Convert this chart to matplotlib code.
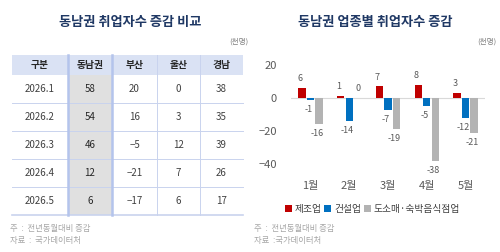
import numpy as np
import matplotlib
matplotlib.use("Agg")
import matplotlib.pyplot as plt
from matplotlib.patches import Rectangle

plt.rcParams['font.family'] = ['Noto Sans CJK KR', 'DejaVu Sans']

# table data
tbl_cols = ["구분", "동남권", "부산", "울산", "경남"]
tbl_rows = ["2026.1", "2026.2", "2026.3", "2026.4", "2026.5"]
dongnam = [58, 54, 46, 12, 6]
busan = [20, 16, -5, -21, -17]
ulsan = [0, 3, 12, 7, 6]
gyeongnam = [38, 35, 39, 26, 17]

# bar chart data
months = ["1월", "2월", "3월", "4월", "5월"]
manuf = [6, 1, 7, 8, 3]
constr = [-1, -14, -7, -5, -12]
retail = [-16, 0, -19, -38, -21]
series_names = ["제조업", "건설업", "도소매·숙박음식점업"]
colors = ["#c00000", "#0070c0", "#b3b3b3"]

title_col = "#1f3864"
note_col = "#a6a6a6"
txt_col = "#404040"

fig = plt.figure(figsize=(5, 2.52), dpi=100)
# overlay axes in pixel coords for the table and texts
ov = fig.add_axes([0, 0, 1, 1])
ov.set_xlim(0, 500)
ov.set_ylim(252, 0)
ov.axis("off")

ov.text(130, 22, "동남권 취업자수 증감 비교", ha="center", va="center",
        fontsize=9.5, fontweight="bold", color=title_col)
ov.text(375, 22, "동남권 업종별 취업자수 증감", ha="center", va="center",
        fontsize=9.5, fontweight="bold", color=title_col)
ov.text(249, 42, "(천명)", ha="right", va="center", fontsize=5.5, color="#808080")
ov.text(496, 42, "(천명)", ha="right", va="center", fontsize=5.5, color="#808080")

# table
col_x = [12, 68, 112, 157, 200, 243]
head_top, head_bot = 55, 75
row_h = 28
line_col = "#c9d3ee"
ov.add_patch(Rectangle((col_x[0], head_top), col_x[-1] - col_x[0], head_bot - head_top,
                       facecolor="#dae2f4", edgecolor="none"))
ov.add_patch(Rectangle((col_x[1], head_bot), col_x[2] - col_x[1], row_h * len(tbl_rows),
                       facecolor="#e0e0e0", edgecolor="none"))
for j, c in enumerate(tbl_cols):
    ov.text((col_x[j] + col_x[j + 1]) / 2, (head_top + head_bot) / 2, c,
            ha="center", va="center", fontsize=7, fontweight="bold", color="#262626")
vals = list(zip(tbl_rows, dongnam, busan, ulsan, gyeongnam))
for i, row in enumerate(vals):
    yc = head_bot + row_h * (i + 0.5)
    for j, v in enumerate(row):
        s = v if j == 0 else str(v).replace("-", "\u2212")
        ov.text((col_x[j] + col_x[j + 1]) / 2, yc, s, ha="center", va="center",
                fontsize=7, color="#262626" if j == 1 else txt_col)
    yl = head_bot + row_h * (i + 1)
    ov.plot([col_x[0], col_x[-1]], [yl, yl], color=line_col,
            lw=1.2 if i == len(vals) - 1 else 0.7)
bot = head_bot + row_h * len(tbl_rows)
for k in [3, 4]:
    ov.plot([col_x[k], col_x[k]], [head_top, bot], color=line_col, lw=0.7)
for k in [1, 2]:
    ov.plot([col_x[k], col_x[k]], [head_top, bot], color="#b4c4ec", lw=1.8)

for x0 in [10, 254]:
    ov.text(x0, 228, "주  :  전년동월대비 증감", ha="left", va="center",
            fontsize=6, color=note_col)
ov.text(10, 241, "자료  :  국가데이터처", ha="left", va="center", fontsize=6, color=note_col)
ov.text(254, 241, "자료  :국가데이터처", ha="left", va="center", fontsize=6, color=note_col)

# bar chart
ax = fig.add_axes([291 / 500, 1 - 180.5 / 252, 194 / 500, 123.75 / 252])
ax.patch.set_alpha(0)
x = np.arange(len(months))
w = 0.19
offs = [-0.22, 0, 0.22]
for k, (data, c, nm) in enumerate(zip([manuf, constr, retail], colors, series_names)):
    ax.bar(x + offs[k], data, w, color=c, label=nm)
    for xi, v in zip(x, data):
        if v > 0:
            ax.text(xi + offs[k] - 0.05, v + 3, str(v), ha="center", va="bottom",
                    fontsize=6.5, color="#595959")
        elif v == 0:
            ax.text(xi + offs[k], 3, "0", ha="center", va="bottom",
                    fontsize=6.5, color="#595959")
        else:
            ax.text(xi + offs[k] - 0.05, v - 3, str(v), ha="center", va="top",
                    fontsize=6.5, color="#595959")
ax.axhline(0, color="#d9d9d9", lw=0.8, zorder=0)
ax.set_xlim(-0.5, 4.5)
ax.set_ylim(-50, 25)
ax.set_yticks([20, 0, -20, -40])
ax.set_yticklabels(["20", "0", "\u221220", "\u221240"])
ax.set_xticks(x)
ax.set_xticklabels(months)
ax.tick_params(length=0, labelsize=8, colors="#595959")
ax.tick_params(axis="y", pad=10)
ax.tick_params(axis="x", pad=0)
for s in ax.spines.values():
    s.set_visible(False)
ax.legend(loc="upper center", bbox_to_anchor=(0.42, -0.12), ncol=3, frameon=False,
          fontsize=7, handlelength=0.7, handleheight=0.7, handletextpad=0.3,
          columnspacing=0.3, labelcolor="#404040")

fig.savefig("out.png", dpi=100)
